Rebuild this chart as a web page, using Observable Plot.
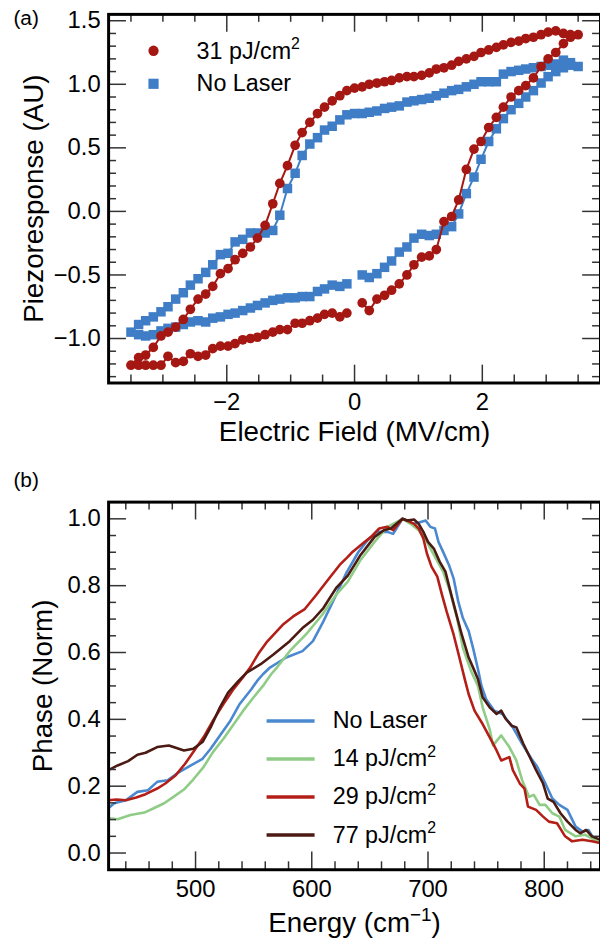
<!DOCTYPE html>
<html><head><meta charset="utf-8">
<script src="https://cdn.jsdelivr.net/npm/d3@7"></script>
<script src="https://cdn.jsdelivr.net/npm/@observablehq/plot@0.6"></script>
<style>
body{margin:0;background:#fff;}
#wrap{width:600px;height:952px;overflow:hidden;position:relative;background:#fff;}
#wrap svg{display:block;}
</style></head><body><div id="wrap"></div>
<script>
// ---------- Panel (a): hysteresis loops ----------
const fieldSweep = [0.12,0.23,0.35,0.47,0.58,0.70,0.82,0.93,1.05,1.17,1.28,1.40,1.52,1.63,1.75,1.87,1.98,2.10,2.22,2.33,2.45,2.57,2.68,2.80,2.92,3.03,3.15,3.27,3.38,3.50,
 3.38,3.27,3.15,3.03,2.92,2.80,2.68,2.57,2.45,2.33,2.22,2.10,1.98,1.87,1.75,1.63,1.52,1.40,1.28,1.17,1.05,0.93,0.82,0.70,0.58,0.47,0.35,0.23,0.12,0.00,
 -0.12,-0.23,-0.35,-0.47,-0.58,-0.70,-0.82,-0.93,-1.05,-1.17,-1.28,-1.40,-1.52,-1.63,-1.75,-1.87,-1.98,-2.10,-2.22,-2.33,-2.45,-2.57,-2.68,-2.80,-2.92,-3.03,-3.15,-3.27,-3.38,-3.50,
 -3.38,-3.27,-3.15,-3.03,-2.92,-2.80,-2.68,-2.57,-2.45,-2.33,-2.22,-2.10,-1.98,-1.87,-1.75,-1.63,-1.52,-1.40,-1.28,-1.17,-1.05,-0.93,-0.82,-0.70,-0.58,-0.47,-0.35,-0.23,-0.12];
const piezoLaser31 = [-0.72,-0.78,-0.69,-0.66,-0.62,-0.57,-0.50,-0.42,-0.36,-0.35,-0.30,-0.08,-0.04,0.09,0.33,0.49,0.55,0.66,0.74,0.82,0.90,0.95,0.99,1.05,1.14,1.20,1.25,1.32,1.37,1.39,
 1.39,1.40,1.42,1.41,1.39,1.37,1.36,1.34,1.33,1.31,1.29,1.27,1.25,1.22,1.20,1.18,1.15,1.13,1.12,1.09,1.07,1.06,1.06,1.05,1.03,1.02,1.01,1.00,0.98,0.97,
 0.95,0.91,0.87,0.82,0.77,0.70,0.62,0.52,0.36,0.22,0.06,-0.11,-0.21,-0.28,-0.33,-0.38,-0.45,-0.49,-0.59,-0.65,-0.69,-0.77,-0.85,-0.91,-0.95,-0.98,-1.07,-1.13,-1.15,-1.21,
 -1.21,-1.21,-1.21,-1.21,-1.14,-1.19,-1.18,-1.12,-1.14,-1.13,-1.08,-1.06,-1.06,-1.04,-1.01,-1.00,-0.99,-0.97,-0.95,-0.93,-0.93,-0.88,-0.88,-0.86,-0.84,-0.81,-0.80,-0.83,-0.80];
const piezoNoLaser = [-0.50,-0.52,-0.49,-0.44,-0.39,-0.32,-0.28,-0.21,-0.18,-0.19,-0.18,-0.15,-0.12,-0.02,0.14,0.27,0.41,0.55,0.65,0.73,0.80,0.85,0.90,0.95,1.01,1.06,1.10,1.13,1.15,1.14,
 1.17,1.19,1.16,1.15,1.14,1.13,1.12,1.11,1.10,1.08,1.02,1.02,1.02,1.00,0.98,0.96,0.95,0.93,0.91,0.89,0.88,0.87,0.86,0.83,0.82,0.81,0.79,0.78,0.77,0.77,
 0.76,0.72,0.67,0.64,0.58,0.53,0.44,0.30,0.18,-0.03,-0.15,-0.17,-0.17,-0.17,-0.22,-0.24,-0.33,-0.34,-0.42,-0.48,-0.53,-0.58,-0.64,-0.69,-0.75,-0.79,-0.83,-0.86,-0.89,-0.95,
 -0.97,-0.98,-0.97,-0.94,-0.92,-0.91,-0.89,-0.87,-0.86,-0.87,-0.84,-0.83,-0.81,-0.80,-0.78,-0.76,-0.74,-0.72,-0.70,-0.69,-0.68,-0.68,-0.67,-0.67,-0.63,-0.61,-0.58,-0.59,-0.57];
const loopLabels = ["31 pJ/cm^{2}", "No Laser"];
const fieldMajorTicks = [-2, 0, 2];
const fieldMinorTicks = [-3.5, -3, -2.5, -1.5, -1, -0.5, 0.5, 1, 1.5, 2.5, 3, 3.5];
const piezoMajorTicks = [-1, -0.5, 0, 0.5, 1, 1.5];
const piezoMinorTicks = [-1.3,-1.2,-1.1,-0.9,-0.8,-0.7,-0.6,-0.4,-0.3,-0.2,-0.1,0.1,0.2,0.3,0.4,0.6,0.7,0.8,0.9,1.1,1.2,1.3,1.4];

// ---------- Panel (b): phase spectra ----------
const energyNoLaser = [425,430,440,450,459,467,476,484,496,506,513,521,530,538,548,553,558,564,578,592,601,610,621,630,640,648,656,665,670,678,688,693,698,702,706,709,713,718,722,726,730,735,739,743,746,750,757,764,773,781,789,794,801,807,813,820,827,833,838,844,848];
const phaseNoLaser = [0.134,0.149,0.158,0.183,0.188,0.213,0.218,0.238,0.262,0.282,0.312,0.352,0.396,0.446,0.490,0.515,0.535,0.555,0.585,0.604,0.634,0.693,0.773,0.840,0.900,0.936,0.961,0.961,0.955,1.0,0.985,0.990,0.995,0.976,0.971,0.931,0.901,0.862,0.822,0.753,0.703,0.664,0.610,0.550,0.500,0.460,0.426,0.416,0.376,0.327,0.282,0.258,0.208,0.163,0.144,0.129,0.079,0.064,0.069,0.035,0.040];
const energy14 = [426,433,444,456,464,473,481,490,498,507,515,524,533,541,550,558,565,570,581,595,609,621,631,642,654,665,673,678,685,692,699,706,713,719,725,730,737,743,747,753,756,763,770,776,781,787,791,796,801,807,813,818,827,835,843,848];
const phase14 = [0.104,0.101,0.114,0.121,0.134,0.149,0.168,0.190,0.220,0.258,0.302,0.342,0.386,0.426,0.466,0.500,0.535,0.555,0.604,0.654,0.713,0.773,0.812,0.877,0.931,0.976,0.990,1.0,0.985,0.966,0.931,0.886,0.842,0.782,0.703,0.614,0.545,0.500,0.436,0.371,0.322,0.352,0.317,0.277,0.218,0.168,0.174,0.144,0.144,0.119,0.109,0.069,0.050,0.055,0.040,0.035];
const energy29 = [425,432,440,449,457,467,474,483,491,500,507,515,524,533,541,547,554,561,575,584,594,604,615,624,631,635,642,651,658,665,670,678,682,688,692,696,699,703,708,712,716,722,727,732,735,740,747,753,759,763,770,773,779,783,786,793,799,804,811,818,824,833,841,848];
const phase29 = [0.158,0.160,0.158,0.166,0.176,0.193,0.208,0.233,0.267,0.312,0.347,0.396,0.446,0.492,0.527,0.555,0.596,0.630,0.683,0.708,0.730,0.773,0.822,0.862,0.886,0.901,0.921,0.946,0.971,0.976,0.966,1.0,0.995,0.985,0.971,0.941,0.897,0.857,0.827,0.773,0.723,0.654,0.585,0.515,0.475,0.426,0.386,0.347,0.307,0.277,0.287,0.248,0.208,0.193,0.139,0.129,0.109,0.094,0.089,0.050,0.035,0.040,0.035,0.030];
const energy77 = [425,433,442,450,457,467,477,483,490,498,506,513,521,528,537,544,556,567,581,592,601,610,621,631,642,654,662,668,678,682,688,692,696,700,705,710,715,720,726,729,735,740,743,747,753,759,763,767,772,776,782,789,793,799,803,808,814,820,827,831,836,841,848];
const phase77 = [0.248,0.262,0.275,0.294,0.300,0.317,0.322,0.315,0.307,0.312,0.332,0.376,0.436,0.480,0.515,0.540,0.565,0.594,0.634,0.673,0.698,0.733,0.793,0.830,0.892,0.946,0.966,0.971,1.0,0.995,0.998,0.985,0.961,0.931,0.911,0.872,0.842,0.773,0.693,0.654,0.585,0.545,0.520,0.466,0.436,0.416,0.426,0.401,0.381,0.376,0.327,0.277,0.248,0.208,0.163,0.153,0.119,0.094,0.069,0.059,0.069,0.050,0.040];
const spectraLabels = ["No Laser", "14 pJ/cm^{2}", "29 pJ/cm^{2}", "77 pJ/cm^{2}"];
const energyMajorTicks = [500, 600, 700, 800];
const energyMinorTicks = [440,460,480,520,540,560,580,620,640,660,680,720,740,760,780,820,840];
const phaseMajorTicks = [0, 0.2, 0.4, 0.6, 0.8, 1.0];
const phaseMinorTicks = [0.05,0.1,0.15,0.25,0.3,0.35,0.45,0.5,0.55,0.65,0.7,0.75,0.85,0.9,0.95];

// ---------- styling ----------
const FONT = "'Liberation Sans', Arial, Helvetica, sans-serif";
const redA = "#a51712", blueA = "#3f7ec6";
const specColors = ["#4a88d0", "#8fcc86", "#b31f17", "#4b1a12"];
const tickStyle = {stroke: "#333", strokeWidth: 1.5};

function frameTicks(xs, ys, innerW, innerH, len) {
  return [
    Plot.tickX(xs, {x: d => d, insetTop: innerH - len, ...tickStyle}),
    Plot.tickX(xs, {x: d => d, insetBottom: innerH - len, ...tickStyle}),
    Plot.tickY(ys, {y: d => d, insetRight: innerW - len, ...tickStyle}),
    Plot.tickY(ys, {y: d => d, insetLeft: innerW - len, ...tickStyle})
  ];
}

function applySup(svg) {
  svg.querySelectorAll("text").forEach(t => {
    const s = t.textContent;
    if (!s.includes("^{")) return;
    const parts = s.split(/(\^\{[^}]*\})/);
    while (t.firstChild) t.removeChild(t.firstChild);
    let raised = false;
    parts.forEach(p => {
      if (!p) return;
      const ts = document.createElementNS("http://www.w3.org/2000/svg", "tspan");
      if (p.startsWith("^{")) {
        ts.textContent = p.slice(2, -1);
        ts.setAttribute("font-size", "0.68em");
        ts.setAttribute("dy", (-0.4 / 0.68).toFixed(3) + "em");
        raised = true;
      } else {
        ts.textContent = p;
        if (raised) { ts.setAttribute("dy", "0.4em"); raised = false; }
      }
      t.appendChild(ts);
    });
  });
}

// ---------- Panel (a) ----------
const A = {width: 605, height: 460, mt: 14, mb: 74.3, ml: 109, mr: 0};
const aInnerH = A.height - A.mt - A.mb, aInnerW = A.width - A.ml - A.mr;
const laserRows = fieldSweep.map((e, i) => ({e, p: piezoLaser31[i]}));
const noLaserRows = fieldSweep.map((e, i) => ({e, p: piezoNoLaser[i]}));

const plotA = Plot.plot({
  width: A.width, height: A.height,
  marginTop: A.mt, marginBottom: A.mb, marginLeft: A.ml, marginRight: A.mr,
  style: {fontFamily: FONT, fontSize: "24px", color: "#000", background: "#fff"},
  x: {domain: [-3.85, 3.85]},
  y: {domain: [-1.35, 1.55]},
  marks: [
    Plot.line(noLaserRows, {x: "e", y: "p", stroke: blueA, strokeWidth: 2}),
    Plot.dot(noLaserRows, {x: "e", y: "p", symbol: "square", r: 5.4, fill: blueA}),
    Plot.line(laserRows, {x: "e", y: "p", stroke: redA, strokeWidth: 2}),
    Plot.dot(laserRows, {x: "e", y: "p", r: 4.9, fill: redA}),
    ...frameTicks(fieldMajorTicks, piezoMajorTicks, aInnerW, aInnerH, 18),
    ...frameTicks(fieldMinorTicks, piezoMinorTicks, aInnerW, aInnerH, 8),
    Plot.frame({stroke: "#000", strokeWidth: 3}),
    Plot.axisX(fieldMajorTicks, {tickSize: 0, tickPadding: 10, tickFormat: d3.format("d"), label: null}),
    Plot.axisY(piezoMajorTicks, {tickSize: 0, tickPadding: 8, tickFormat: d3.format(".1f"), label: null}),
    Plot.text(["Electric Field (MV/cm)"], {text: d => d, frameAnchor: "bottom", dy: 49.3, lineAnchor: "middle", fontSize: 28}),
    Plot.text(["Piezoresponse (AU)"], {text: d => d, frameAnchor: "left", dx: -75.5, rotate: -90, textAnchor: "middle", lineAnchor: "middle", fontSize: 28}),
    Plot.text(["(a)"], {text: d => d, frameAnchor: "top-left", dx: -96, dy: 3.5, textAnchor: "start", lineAnchor: "middle", fontSize: 21}),
    Plot.dot([loopLabels[0]], {frameAnchor: "top-left", dx: 45.3, dy: 36.7, r: 5.2, fill: redA}),
    Plot.dot([loopLabels[1]], {frameAnchor: "top-left", dx: 45.3, dy: 70, r: 5.8, symbol: "square", fill: blueA}),
    Plot.text([loopLabels[0]], {text: d => d, frameAnchor: "top-left", dx: 88.7, dy: 37, textAnchor: "start", lineAnchor: "middle", fontSize: 23.5}),
    Plot.text([loopLabels[1]], {text: d => d, frameAnchor: "top-left", dx: 88.7, dy: 69.5, textAnchor: "start", lineAnchor: "middle", fontSize: 23.5})
  ]
});

// ---------- Panel (b) ----------
const B = {width: 605, height: 492, mt: 46, mb: 75.3, ml: 109, mr: 0};
const bInnerH = B.height - B.mt - B.mb, bInnerW = B.width - B.ml - B.mr;
const spectra = [
  energyNoLaser.map((e, i) => ({e, p: phaseNoLaser[i]})),
  energy14.map((e, i) => ({e, p: phase14[i]})),
  energy29.map((e, i) => ({e, p: phase29[i]})),
  energy77.map((e, i) => ({e, p: phase77[i]}))
];
const legendLine = {draw(ctx) { ctx.moveTo(-24.2, 0); ctx.lineTo(24.2, 0); }};
const legendRows = [220.7, 259, 297.3, 335.7];

const plotB = Plot.plot({
  width: B.width, height: B.height,
  marginTop: B.mt, marginBottom: B.mb, marginLeft: B.ml, marginRight: B.mr,
  style: {fontFamily: FONT, fontSize: "24px", color: "#000", background: "#fff"},
  x: {domain: [425.2, 848.4]},
  y: {domain: [-0.05, 1.05]},
  marks: [
    ...spectra.map((rows, k) => Plot.line(rows, {x: "e", y: "p", stroke: specColors[k], strokeWidth: 2.6, clip: true})),
    ...frameTicks(energyMajorTicks, phaseMajorTicks, bInnerW, bInnerH, 18),
    ...frameTicks(energyMinorTicks, phaseMinorTicks, bInnerW, bInnerH, 8),
    Plot.frame({stroke: "#000", strokeWidth: 3}),
    Plot.axisX(energyMajorTicks, {tickSize: 0, tickPadding: 10, tickFormat: d3.format("d"), label: null}),
    Plot.axisY(phaseMajorTicks, {tickSize: 0, tickPadding: 8, tickFormat: d3.format(".1f"), label: null}),
    Plot.text(["Energy (cm^{−1})"], {text: d => d, frameAnchor: "bottom", dy: 53.8, lineAnchor: "middle", fontSize: 28}),
    Plot.text(["Phase (Norm)"], {text: d => d, frameAnchor: "left", dx: -66, rotate: -90, textAnchor: "middle", lineAnchor: "middle", fontSize: 28}),
    Plot.text(["(b)"], {text: d => d, frameAnchor: "top-left", dx: -96, dy: -22, textAnchor: "start", lineAnchor: "middle", fontSize: 21}),
    ...spectraLabels.map((lab, k) => Plot.dot([lab], {frameAnchor: "top-left", dx: 183.5, dy: legendRows[k], symbol: legendLine, stroke: specColors[k], strokeWidth: 3.5, fill: "none"})),
    ...spectraLabels.map((lab, k) => Plot.text([lab], {text: d => d, frameAnchor: "top-left", dx: 226, dy: legendRows[k], textAnchor: "start", lineAnchor: "middle", fontSize: 23.5}))
  ]
});

const wrap = document.getElementById("wrap");
wrap.appendChild(plotA);
wrap.appendChild(plotB);
applySup(plotA);
applySup(plotB);
</script></body></html>
